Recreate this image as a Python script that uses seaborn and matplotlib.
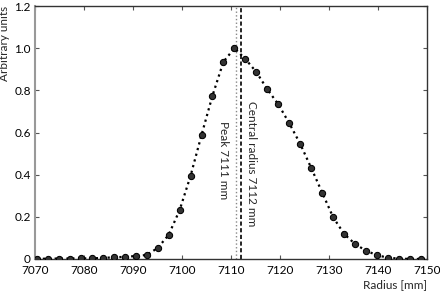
import numpy as np
import pandas as pd
import seaborn as sns
import matplotlib
matplotlib.use('Agg')
import matplotlib.pyplot as plt

sns.set_theme(style='ticks')
plt.rcParams['font.family'] = ['Lato', 'DejaVu Sans']

# data
radius = [7070.4 + 2.24 * i for i in range(36)]
intensity = [0.0, 0.002, 0.002, 0.002, 0.003, 0.003, 0.005, 0.008, 0.010, 0.014,
             0.019, 0.052, 0.114, 0.231, 0.394, 0.588, 0.775, 0.936, 1.0, 0.949,
             0.887, 0.805, 0.734, 0.644, 0.546, 0.432, 0.315, 0.198, 0.119, 0.071,
             0.039, 0.018, 0.006, 0.002, 0.0, 0.0]
peak_r = 7111
central_r = 7112
xticks = [7070, 7080, 7090, 7100, 7110, 7120, 7130, 7140, 7150]
yticks = [0, 0.2, 0.4, 0.6, 0.8, 1.0, 1.2]
ytick_labels = ['0', '0.2', '0.4', '0.6', '0.8', '1.0', '1.2']

df = pd.DataFrame({'radius': radius, 'intensity': intensity})

fig = plt.figure(figsize=(4.4, 2.91), dpi=100)
ax = fig.add_axes([0.0795, 0.110, 0.8905, 0.869])

ax.axvline(peak_r, color='#888888', lw=1.0, ls=':', zorder=1)
ax.axvline(central_r, color='black', lw=1.2, ls=(0, (2.5, 1.5)), zorder=1)

sns.lineplot(data=df, x='radius', y='intensity', ax=ax, color='black',
             linestyle=':', lw=1.6, marker='o', markersize=4.5,
             markerfacecolor='#333333', markeredgecolor='black', zorder=3)

ax.text(7108.4, 0.47, 'Peak 7111 mm', rotation=-90, ha='center',
        va='center', fontsize=8.5)
ax.text(7114.3, 0.45, 'Central radius 7112 mm', rotation=-90,
        ha='center', va='center', fontsize=8.5)

ax.set_xlim(7070, 7150)
ax.set_ylim(0, 1.2)
ax.set_xticks(xticks)
ax.set_xticklabels([str(t) for t in xticks])
ax.set_yticks(yticks)
ax.set_yticklabels(ytick_labels)
ax.tick_params(direction='in', length=3, width=0.8, labelsize=8.5, pad=3,
               top=True, right=True, colors='#555555', labelcolor='black')
ax.tick_params(axis='x', pad=4.5)
ax.set_xlabel('Radius [mm]', loc='right', fontsize=8.5, labelpad=2)
ax.set_ylabel('Arbitrary units', loc='top', fontsize=8.5, labelpad=3)

for side in ['top', 'bottom', 'right']:
    ax.spines[side].set_color('#333333')
    ax.spines[side].set_linewidth(1.0)
ax.spines['left'].set_color('#999999')
ax.spines['left'].set_linewidth(1.5)

fig.savefig('out.png', dpi=100)
